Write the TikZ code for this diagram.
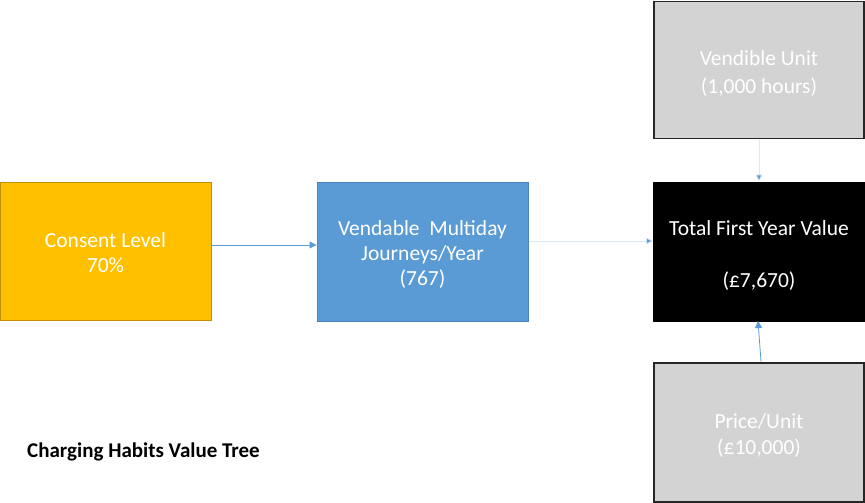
\documentclass[tikz,border=0pt]{standalone}
\usepackage{fontspec}
\setmainfont{Carlito}
\usetikzlibrary{arrows.meta}
\definecolor{gold}{HTML}{FFC000}
\definecolor{golddark}{HTML}{C09000}
\definecolor{blu}{HTML}{5B9BD5}
\definecolor{bludark}{HTML}{4A84BA}
\definecolor{gry}{HTML}{D3D3D3}
\definecolor{arr}{HTML}{5B9BD5}
\definecolor{arrlight}{HTML}{DCE8F4}
\newcommand{\topr}[1]{\rule{0pt}{#1}}
\tikzset{
  box/.style={draw, line width=1pt, inner sep=0pt, align=center, font=\fontsize{21.5}{25}\selectfont},
  conn/.style={line width=0.8pt, draw=arr, -{Triangle[length=7pt,width=7pt,fill=arr]}},
  connlight/.style={line width=0.8pt, draw=arrlight, -{Triangle[length=7pt,width=7pt,fill=arr]}}
}
\begin{document}
\begin{tikzpicture}[x=1pt,y=-1pt]
\useasboundingbox[fill=white] (0,0) rectangle (865,503);
\node[box, fill=gold, draw=golddark, text=white, minimum width=211pt, minimum height=138pt] (consent) at (105.5,251) {\topr{18pt}Consent Level\\70\%};
\node[box, fill=blu, draw=bludark, text=white, minimum width=211pt, minimum height=139pt] (vend) at (422.5,251.5) {\topr{20.5pt}Vendable\ \ Multiday\\Journeys/Year\\(767)};
\node[box, fill=black, draw=black, text=white, minimum width=211pt, minimum height=139pt] (total) at (759,251.5) {\topr{22pt}Total First Year Value\\[27pt](£7,670)};
\node[box, fill=gry, draw=black!85, line width=1.5pt, text=white, minimum width=210pt, minimum height=137pt, font=\fontsize{21.5}{28}\selectfont] (unit) at (759,70) {\topr{22pt}Vendible Unit\\(1,000 hours)};
\node[box, fill=gry, draw=black!85, line width=1.5pt, text=white, minimum width=210pt, minimum height=139pt, font=\fontsize{21.5}{26}\selectfont] (price) at (759,432.5) {\topr{21pt}Price/Unit\\(£10,000)};
\node[font=\bfseries\fontsize{21}{24}\selectfont, anchor=west, inner sep=0pt] (title) at (27,452) {Charging Habits Value Tree};
\draw[conn] (consent.east |- 0,245) -- (vend.west |- 0,245);
\draw[connlight] (vend.east |- 0,241) -- (total.west |- 0,241);
\draw[connlight] (759,139.5) -- (total.north);
\coordinate (pbot) at (761,361.5);
\draw[conn] (pbot) -- (758,321);
\end{tikzpicture}
\end{document}
